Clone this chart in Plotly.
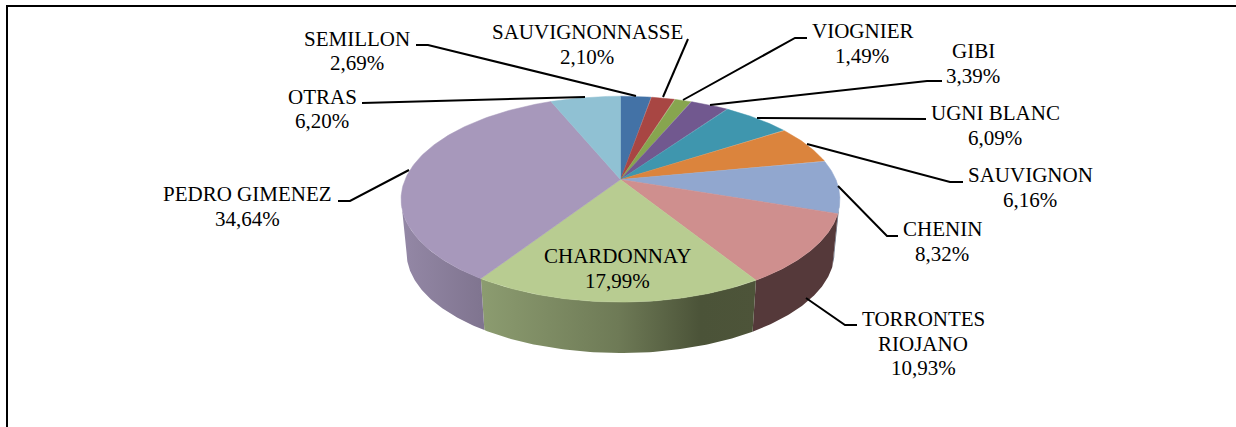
import numpy as np
import plotly.graph_objects as go

# varieties, clockwise from 12 o'clock
varieties = ["SEMILLON", "SAUVIGNONNASSE", "VIOGNIER", "GIBI", "UGNI BLANC", "SAUVIGNON",
             "CHENIN", "TORRONTES RIOJANO", "CHARDONNAY", "PEDRO GIMENEZ", "OTRAS"]
shares = [2.69, 2.10, 1.49, 3.39, 6.09, 6.16, 8.32, 10.93, 17.99, 34.64, 6.20]

top_colors = ["#4372a6", "#a84643", "#87a54f", "#71588f", "#3f96ae", "#db843d",
              "#91a7cf", "#cf8f8e", "#b8cc91", "#a798bb", "#90c1d3"]

# side wall gradients, left to right
wall_scales = {
    "CHENIN": [[0, "#5a6478"], [1, "#5a6478"]],
    "TORRONTES RIOJANO": [[0, "#55393a"], [1, "#55393a"]],
    "CHARDONNAY": [[0, "#8c9c70"], [0.5, "#6e7a56"], [0.8, "#4b5338"], [1, "#4d5439"]],
    "PEDRO GIMENEZ": [[0, "#9488a6"], [1, "#7f748f"]],
}

# label text lines and where each one is centred
label_lines = {
    "SEMILLON": (["SEMILLON"], 357, 38.5),
    "SAUVIGNONNASSE": (["SAUVIGNONNASSE"], 587, 32),
    "VIOGNIER": (["VIOGNIER"], 862, 31),
    "GIBI": (["GIBI"], 973, 51),
    "UGNI BLANC": (["UGNI BLANC"], 995, 113),
    "SAUVIGNON": (["SAUVIGNON"], 1030, 175),
    "CHENIN": (["CHENIN"], 942, 229),
    "TORRONTES RIOJANO": (["TORRONTES", "RIOJANO"], 923, 319),
    "CHARDONNAY": (["CHARDONNAY"], 617, 256),
    "PEDRO GIMENEZ": (["PEDRO GIMENEZ"], 247.5, 194),
    "OTRAS": (["OTRAS"], 322, 96.5),
}

leaders = [
    ([416, 428, 636], [45, 45, 96]),
    ([688, 663], [39, 97]),
    ([807, 795, 683], [38, 38, 100]),
    ([942, 927, 710], [81, 81, 105]),
    ([926, 757], [119, 118]),
    ([963, 950, 807], [182, 182, 144]),
    ([898, 887, 838], [236, 236, 186]),
    ([857, 845, 806], [325, 325, 298]),
    ([338, 350, 409], [201, 201, 170]),
    ([362, 585], [103, 97]),
]

CX, CY = 620.5, 179.5
A, B, P = 215.4, 99.2, 0.191
DEPTH, SHRINK = 54, 0.975
LINE_H = 24.5
FONT = dict(family="Liberation Serif", size=21, color="black")


def rim(theta, bottom=False):
    # perspective projection of the disc, theta in degrees clockwise from the back
    t = np.radians(theta)
    w = 1 + P * np.cos(t)
    u = A * np.sin(t) / w
    v = B * np.cos(t) / w
    if bottom:
        return CX + SHRINK * u, CY - SHRINK * v + DEPTH
    return CX + u, CY - v


edges = np.concatenate([[0], np.cumsum(shares)]) * 360 / sum(shares)
fig = go.Figure()

# walls first, the top faces cover their upper edge
for i, name in enumerate(varieties):
    if name not in wall_scales:
        continue
    t0, t1 = max(edges[i], 101), min(edges[i + 1], 259)
    ts = np.linspace(t0, t1, 80)
    x0, y0 = rim(ts)
    x1, y1 = rim(ts[::-1], bottom=True)
    fig.add_trace(go.Scatter(
        x=np.concatenate([x0, x1]), y=np.concatenate([y0, y1]),
        mode="lines", fill="toself", line=dict(width=0),
        fillgradient=dict(type="horizontal", colorscale=wall_scales[name]),
        hoverinfo="skip"
    ))

for i, name in enumerate(varieties):
    ts = np.linspace(edges[i], edges[i + 1], 120)
    x, y = rim(ts)
    fig.add_trace(go.Scatter(
        x=np.concatenate([[CX], x, [CX]]), y=np.concatenate([[CY], y, [CY]]),
        mode="lines", fill="toself", fillcolor=top_colors[i],
        line=dict(width=0.5, color=top_colors[i]),
        name=name, hoverinfo="name"
    ))

for lx, ly in leaders:
    fig.add_trace(go.Scatter(x=lx, y=ly, mode="lines", line=dict(color="black", width=2),
                             hoverinfo="skip"))

# chart frame, only top and left are inside the crop
fig.add_trace(go.Scatter(x=[7, 7, 1236], y=[427, 6, 6], mode="lines",
                         line=dict(color="black", width=2), hoverinfo="skip"))

annotations = []
for name, share in zip(varieties, shares):
    lines, x, y = label_lines[name]
    lines = lines + [f"{share:.2f}%".replace(".", ",")]
    for k, text in enumerate(lines):
        annotations.append(dict(text=text, x=x, y=y + k * LINE_H, xref="x", yref="y",
                                showarrow=False, xanchor="center", yanchor="middle", font=FONT))

fig.update_layout(
    width=1236, height=427,
    margin=dict(l=0, r=0, t=0, b=0),
    showlegend=False,
    paper_bgcolor="white", plot_bgcolor="white",
    hovermode="closest",
    annotations=annotations,
    xaxis=dict(range=[0, 1236], visible=False, fixedrange=True),
    yaxis=dict(range=[427, 0], visible=False, fixedrange=True),
)

fig.write_html("out.html", config=dict(displayModeBar=False),
               post_script="document.body.style.margin='0';document.body.style.overflow='hidden';")
